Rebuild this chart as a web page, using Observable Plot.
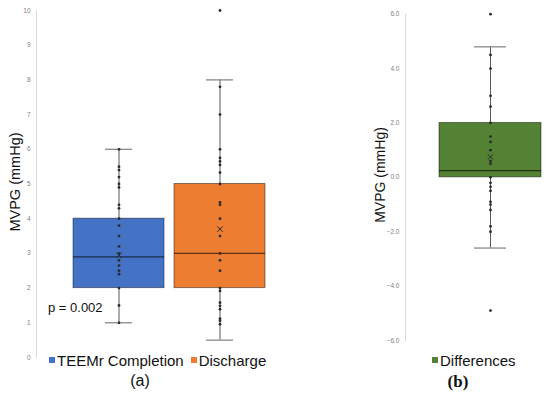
<!DOCTYPE html>
<html>
<head>
<meta charset="utf-8">
<script src="https://cdn.jsdelivr.net/npm/d3@7"></script>
<script src="https://cdn.jsdelivr.net/npm/@observablehq/plot@0.6"></script>
<style>
  body { margin: 0; background: #fff; }
  #root { position: relative; width: 550px; height: 399px; overflow: hidden; font-family: "Liberation Sans", Arial, sans-serif; }
  .abs { position: absolute; }
  .ylab { position: absolute; white-space: nowrap; transform: translate(-50%, -50%) rotate(-90deg); color: #111; }
  .legend { position: absolute; font-size: 15px; line-height: 18px; color: #111; white-space: nowrap; }
  .sw { display: inline-block; width: 6px; height: 6px; margin-right: 2px; vertical-align: 3px; }
  .panel { position: absolute; font-family: "Liberation Serif", "DejaVu Serif", serif; font-size: 17px; transform: translateX(-50%); color: #111; }
</style>
</head>
<body>
<div id="root"></div>
<script>
// ---------- data ----------
const categoriesA = ["TEEMr Completion", "Discharge"];
const colorsA = ["#4472C4", "#ED7D31"];
const q1A = [2.0, 2.0];
const medianA = [2.9, 3.0];
const q3A = [4.0, 5.0];
const whiskerLowA = [1.0, 0.5];
const whiskerHighA = [6.0, 8.0];
const meanA = [2.95, 3.7];
const teemrPoints = [6.0, 5.5, 5.4, 5.2, 5.0, 4.9, 4.4, 4.3, 4.0, 3.8, 3.5, 3.2, 3.0, 2.8, 2.65, 2.5, 2.4, 2.0, 1.5, 1.0];
const dischargePoints = [10.0, 7.8, 7.0, 6.0, 5.75, 5.65, 5.55, 5.33, 5.0, 4.47, 4.4, 4.0, 3.5, 3.0, 2.8, 2.5, 2.0, 1.92, 1.58, 1.49, 1.39, 1.12, 1.06, 0.96];
const ticksA = [0, 1, 2, 3, 4, 5, 6, 7, 8, 9, 10];

const categoriesB = ["Differences"];
const colorsB = ["#548235"];
const q1B = [0.0];
const medianB = [0.25];
const q3B = [2.0];
const whiskerLowB = [-2.6];
const whiskerHighB = [4.8];
const meanB = [0.75];
const diffPoints = [6.0, 4.5, 4.0, 3.0, 2.6, 2.0, 1.5, 1.3, 1.0, 0.6, 0.5, 0.0, -0.2, -0.35, -0.5, -0.9, -1.0, -1.2, -1.8, -2.0, -4.9];
const ticksB = [-6, -4, -2, 0, 2, 4, 6];

const pValueText = "p = 0.002";
const yLabel = "MVPG (mmHg)";

// ---------- build tables ----------
function stats(cats, q1, med, q3, lo, hi, mean) {
  return cats.map((c, i) => ({cat: c, q1: q1[i], med: med[i], q3: q3[i], lo: lo[i], hi: hi[i], mean: mean[i]}));
}
const statsA = stats(categoriesA, q1A, medianA, q3A, whiskerLowA, whiskerHighA, meanA);
const statsB = stats(categoriesB, q1B, medianB, q3B, whiskerLowB, whiskerHighB, meanB);
const pointsA = [
  ...teemrPoints.map(v => ({cat: categoriesA[0], v})),
  ...dischargePoints.map(v => ({cat: categoriesA[1], v}))
];
const pointsB = diffPoints.map(v => ({cat: categoriesB[0], v}));

function boxMarks(st, pts, ticks, fmt, capInset) {
  return [
    Plot.frame({anchor: "left", stroke: "#d9d9d9"}),
    Plot.axisY({ticks, tickSize: 0, tickPadding: 6, fontSize: 6.5, fill: "#808080", tickFormat: fmt, label: null}),
    Plot.ruleX(st, {x: "cat", y1: "lo", y2: "hi", stroke: "#595959", strokeWidth: 1}),
    Plot.tickY(st, {x: "cat", y: "lo", stroke: "#7f7f7f", strokeWidth: 1.2, insetLeft: capInset, insetRight: capInset}),
    Plot.tickY(st, {x: "cat", y: "hi", stroke: "#7f7f7f", strokeWidth: 1.2, insetLeft: capInset, insetRight: capInset}),
    Plot.barY(st, {x: "cat", y1: "q1", y2: "q3", fill: "cat", stroke: "#000", strokeOpacity: 0.45, strokeWidth: 1}),
    Plot.tickY(st, {x: "cat", y: "med", stroke: "#000", strokeOpacity: 0.6, strokeWidth: 1.2}),
    Plot.dot(pts, {x: "cat", y: "v", r: 1.4, fill: "#2b2b2b", stroke: null}),
    Plot.dot(st, {x: "cat", y: "mean", symbol: "times", r: 2.6, stroke: "#2b2b2b", strokeWidth: 1})
  ];
}

const root = document.getElementById("root");

const plotA = Plot.plot({
  width: 310, height: 370,
  marginLeft: 36, marginRight: 9, marginTop: 10, marginBottom: 13,
  style: {background: "transparent", fontFamily: "Liberation Sans, Arial, sans-serif"},
  x: {domain: categoriesA, paddingInner: 0.1, paddingOuter: 0.355, axis: null},
  y: {domain: [0, 10]},
  color: {domain: categoriesA, range: colorsA},
  marks: boxMarks(statsA, pointsA, ticksA, d3.format("d"), 32)
});
const wrapA = document.createElement("div");
wrapA.className = "abs"; wrapA.style.left = "0px"; wrapA.style.top = "0px";
wrapA.appendChild(plotA);
root.appendChild(wrapA);

const plotB = Plot.plot({
  width: 210, height: 350,
  marginLeft: 65, marginRight: 5, marginTop: 13.7, marginBottom: 10,
  style: {background: "transparent", fontFamily: "Liberation Sans, Arial, sans-serif"},
  x: {domain: categoriesB, paddingInner: 0, paddingOuter: 0.186, align: 0.895, axis: null},
  y: {domain: [-6, 6]},
  color: {domain: categoriesB, range: colorsB},
  marks: boxMarks(statsB, pointsB, ticksB, d3.format(".1f"), 35)
});
const wrapB = document.createElement("div");
wrapB.className = "abs"; wrapB.style.left = "340px"; wrapB.style.top = "0px";
wrapB.appendChild(plotB);
root.appendChild(wrapB);

// ---------- text ----------
function addDiv(cls, html, styles) {
  const d = document.createElement("div");
  d.className = cls;
  d.innerHTML = html;
  Object.assign(d.style, styles);
  root.appendChild(d);
  return d;
}
addDiv("ylab", yLabel, {left: "15px", top: "182px", fontSize: "14.5px"});
addDiv("ylab", yLabel, {left: "380px", top: "175px", fontSize: "14px"});
addDiv("abs", pValueText, {left: "48px", top: "300px", fontSize: "13px", color: "#111", fontFamily: "Liberation Sans, Arial, sans-serif"});

addDiv("legend",
  `<span class="sw" style="background:${colorsA[0]}"></span>${categoriesA[0]}` +
  `<span class="sw" style="background:${colorsA[1]};margin-left:7px"></span>${categoriesA[1]}`,
  {left: "49px", top: "352px"});
addDiv("legend",
  `<span class="sw" style="background:${colorsB[0]}"></span>${categoriesB[0]}`,
  {left: "432px", top: "352px"});

addDiv("panel", "(a)", {left: "140px", top: "372px", fontFamily: "Liberation Sans, Arial, sans-serif", fontSize: "16px"});
addDiv("panel", "<b>(b)</b>", {left: "458px", top: "372px"});
</script>
</body>
</html>
